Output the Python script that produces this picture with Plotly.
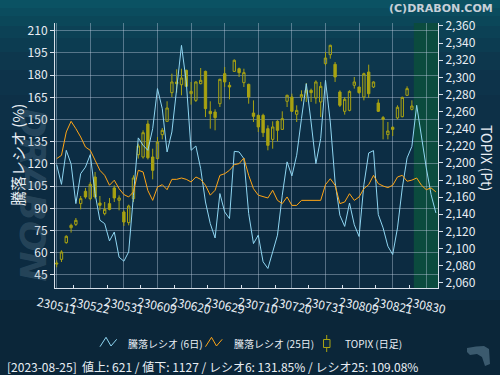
import pandas as pd
import plotly.graph_objects as go

# ---------------- data ----------------
DATES = [d.strftime("%y%m%d") for d in pd.bdate_range(
    "2023-05-11", "2023-09-01", freq="C", holidays=["2023-07-17", "2023-08-11"])]
TICK_EVERY = 7
TICK_LABELS = DATES[::TICK_EVERY][:12]

OPEN = [2083, 2087.3, 2106.8, 2124.3, 2128.2, 2152.4, 2166.8, 2158.2, 2183.5, 2153.1,
        2140.7, 2152.4, 2170.7, 2156.3, 2142.6, 2130.2, 2158.2, 2209.6, 2206.9, 2245.5,
        2206.9, 2205.0, 2233.0, 2248.6, 2282.1, 2294.6, 2291.4, 2308.2, 2280.9, 2273.1,
        2292.6, 2307.0, 2260.3, 2259.5, 2269.2, 2304.3, 2290.7, 2307.0, 2310.1, 2293.8,
        2291.8, 2258.3, 2255.6, 2255.6, 2240.0, 2227.5, 2248.6, 2239.2, 2272.0, 2277.0,
        2256.8, 2277.0, 2282.1, 2284.8, 2275.9, 2271.2, 2316.0, 2326.5, 2315.2, 2282.9,
        2260.3, 2261.4, 2290.7, 2288.7, 2277.0, 2306.2, 2288.7, 2270.0, 2252.9, 2233.0,
        2241.6, 2252.5, 2254.0, 2279.0, 2262.6]
HIGH = [2086, 2097.8, 2115.4, 2129.0, 2135.6, 2161.3, 2170.7, 2177.7, 2189.4, 2161.3,
        2154.3, 2159.0, 2173.8, 2162.1, 2144.6, 2151.2, 2185.5, 2222.5, 2238.1, 2249.8,
        2216.6, 2230.3, 2240.8, 2272.0, 2304.3, 2309.4, 2310.1, 2309.0, 2294.6, 2295.3,
        2310.9, 2307.8, 2272.0, 2262.6, 2298.4, 2312.1, 2294.6, 2321.0, 2311.3, 2310.1,
        2292.6, 2273.1, 2256.4, 2257.5, 2243.9, 2248.6, 2249.8, 2260.3, 2279.8, 2280.9,
        2267.3, 2284.8, 2293.4, 2286.8, 2296.5, 2294.6, 2329.6, 2338.2, 2317.9, 2284.8,
        2277.0, 2284.8, 2300.4, 2288.7, 2305.5, 2314.8, 2295.3, 2274.3, 2254.8, 2247.8,
        2242.7, 2267.3, 2277.4, 2289.5, 2273.1]
LOW = [2078, 2084.2, 2105.6, 2118.5, 2126.3, 2145.7, 2158.2, 2156.3, 2158.2, 2144.6,
       2138.7, 2144.6, 2154.3, 2144.6, 2126.3, 2127.0, 2154.3, 2205.0, 2205.0, 2204.0,
       2180.8, 2204.2, 2227.5, 2247.8, 2277.0, 2282.1, 2279.0, 2288.7, 2268.1, 2271.2,
       2291.8, 2253.6, 2240.0, 2238.1, 2265.3, 2288.7, 2274.3, 2306.2, 2300.4, 2288.7,
       2269.2, 2247.8, 2236.1, 2230.3, 2214.7, 2216.6, 2225.2, 2238.5, 2265.3, 2259.5,
       2247.8, 2272.0, 2271.2, 2271.2, 2269.2, 2253.6, 2314.0, 2321.8, 2294.6, 2265.3,
       2256.4, 2260.3, 2286.8, 2280.9, 2273.1, 2275.9, 2287.5, 2259.5, 2227.5, 2227.5,
       2231.4, 2250.9, 2253.3, 2278.2, 2261.4]
CLOSE = [2082, 2095.9, 2114.2, 2127.0, 2132.9, 2158.2, 2160.2, 2175.0, 2160.2, 2150.4,
         2145.7, 2145.7, 2159.0, 2159.0, 2130.9, 2149.6, 2182.4, 2219.8, 2235.3, 2206.0,
         2191.3, 2224.4, 2238.1, 2264.2, 2294.6, 2292.6, 2299.2, 2289.5, 2283.6, 2294.6,
         2296.5, 2263.4, 2257.5, 2252.9, 2297.7, 2294.6, 2288.7, 2319.9, 2305.5, 2305.5,
         2277.0, 2254.4, 2242.0, 2235.3, 2220.5, 2242.0, 2238.1, 2251.7, 2279.0, 2260.3,
         2261.4, 2279.8, 2284.8, 2282.1, 2294.6, 2289.5, 2322.6, 2337.4, 2300.4, 2267.3,
         2274.3, 2283.6, 2294.6, 2282.1, 2304.3, 2280.9, 2294.6, 2260.3, 2250.9, 2237.3,
         2239.2, 2265.0, 2276.6, 2286.8, 2266.5]

RATIO6 = [119.5, 106.2, 129.2, 120.0, 93.2, 113.4, 117.9, 126.3, 100.0, 82.0,
          79.7, 68.0, 74.0, 57.0, 54.3, 60.6, 98.9, 137.6, 132.6, 129.2,
          143.8, 170.9, 157.3, 128.1, 141.6, 170.9, 200.1, 175.4, 129.2, 132.1,
          116.8, 94.3, 79.7, 70.0, 100.0, 87.6, 83.1, 128.5, 128.1, 123.6,
          86.5, 66.2, 71.9, 53.9, 49.4, 60.6, 71.9, 98.9, 121.4, 111.9,
          125.9, 150.7, 174.2, 148.3, 120.2, 137.1, 176.5, 148.3, 107.8, 85.3,
          77.8, 93.6, 78.9, 71.0, 106.0, 127.4, 129.0, 85.8, 76.8, 64.4,
          58.8, 76.8, 103.8, 124.1, 131.85, 159.6, 137.6, 117.3, 99.3, 86.9]
RATIO25 = [123.6, 125.8, 141.6, 148.8, 143.8, 138.2, 131.4, 129.2, 122.5, 115.7,
           112.3, 105.6, 109.0, 103.3, 99.3, 97.7, 101.1, 115.7, 114.6, 102.0,
           95.4, 104.4, 106.0, 102.6, 109.6, 109.6, 110.5, 109.6, 107.8, 111.2,
           109.6, 105.6, 98.9, 102.2, 112.3, 113.4, 115.7, 119.5, 120.2, 124.0,
           112.3, 103.3, 98.9, 97.7, 97.0, 102.2, 95.4, 93.2, 97.7, 92.0,
           92.0, 95.4, 95.4, 95.4, 95.4, 95.4, 106.0, 110.0, 105.6, 93.2,
           94.3, 99.9, 95.4, 97.7, 103.3, 106.0, 112.3, 106.7, 105.1, 104.0,
           105.6, 111.2, 112.3, 108.3, 109.08, 110.5, 105.6, 102.6, 103.8, 101.1]

LEGEND_NAMES = ["騰落レシオ (6日)", "騰落レシオ (25日)", "TOPIX (日足)"]
STATUS = "[2023-08-25]  値上: 621 / 値下: 1127 / レシオ6: 131.85% / レシオ25: 109.08%"
LEFT_TITLE = "騰落レシオ (%)"
RIGHT_TITLE = "TOPIX (Pt)"
CREDIT = "(C)DRABON.COM"

# ---------------- styling ----------------
W, H = 500, 375
PL, PR, PT, PB = 55, 438, 23, 288
FONT = "Noto Sans CJK JP, Noto Sans, DejaVu Sans, sans-serif"
TXT = "#e8eef4"
OLIVE = "#a8a212"
BLUE = "#8fd6f2"
ORANGE = "#ffa516"
PLOT_BG = "#1b3561"
GREEN_BG = "#0b4b3e"
GRID = "rgba(190,205,225,0.42)"
PAPER = "#0c2a40"


def px(x):
    return (x - PL) / (PR - PL)


def py(y):
    return (PB - y) / (PB - PT)


xc = list(range(len(OPEN)))
xl = list(range(len(RATIO6)))
tickpos = [DATES.index(t) for t in TICK_LABELS]

fig = go.Figure()
fig.add_trace(go.Candlestick(
    x=xc, open=OPEN, high=HIGH, low=LOW, close=CLOSE, name=LEGEND_NAMES[2],
    increasing=dict(line=dict(color=OLIVE, width=1), fillcolor="rgba(0,0,0,0)"),
    decreasing=dict(line=dict(color=OLIVE, width=1), fillcolor=OLIVE),
    yaxis="y", showlegend=False, hoverinfo="skip"))
fig.add_trace(go.Scatter(x=xl, y=RATIO6, mode="lines", name=LEGEND_NAMES[0],
                         line=dict(color=BLUE, width=1), yaxis="y2",
                         showlegend=False, hoverinfo="skip"))
fig.add_trace(go.Scatter(x=xl, y=RATIO25, mode="lines", name=LEGEND_NAMES[1],
                         line=dict(color=ORANGE, width=1), yaxis="y2",
                         showlegend=False, hoverinfo="skip"))

shapes = []
# background vertical gradient (teal top -> navy)
grad = [(0, "#0b5263"), (8, "#0b4c5e"), (16, "#0b4759"), (26, "#0c4155"),
        (38, "#0c3c51"), (52, "#0d374d"), (70, "#0d334a"), (95, "#0d3047"),
        (130, "#0c2d44"), (180, "#0c2b41")]
for k, (y0, col) in enumerate(grad):
    y1 = grad[k + 1][0] if k + 1 < len(grad) else 300
    shapes.append(dict(type="rect", xref="paper", yref="paper", layer="below",
                       x0=px(0), x1=px(W), y0=py(y1), y1=py(y0),
                       fillcolor=col, line=dict(width=0)))
shapes.append(dict(type="rect", xref="paper", yref="paper", layer="below",
                   x0=px(0), x1=px(W), y0=py(H), y1=py(300),
                   fillcolor="#0b2639", line=dict(width=0)))
# green (future) zone
shapes.append(dict(type="rect", xref="x", yref="paper", layer="below",
                   x0=len(OPEN) - 0.6, x1=len(RATIO6) + 2, y0=0, y1=1,
                   fillcolor=GREEN_BG, line=dict(width=0)))


def zig(x0, col):
    pts = [(x0, 346.7), (x0 + 6, 337.3), (x0 + 11, 346), (x0 + 16.7, 339.3)]
    path = "M " + " L ".join(f"{px(a):.5f},{py(b):.5f}" for a, b in pts)
    return dict(type="path", xref="paper", yref="paper", path=path,
                line=dict(color=col, width=1))


shapes.append(zig(100, BLUE))
shapes.append(zig(205.5, ORANGE))
shapes.append(dict(type="line", xref="paper", yref="paper", x0=px(326.7), x1=px(326.7),
                   y0=py(352), y1=py(335), line=dict(color=OLIVE, width=1)))
shapes.append(dict(type="rect", xref="paper", yref="paper", x0=px(323.5), x1=px(330),
                   y0=py(347.5), y1=py(339.5), fillcolor=PAPER,
                   line=dict(color=OLIVE, width=1)))
# small logo bottom right
logo = [(467, 348), (476, 346.5), (484, 346), (489, 349), (490, 364), (485, 366),
        (482, 357), (477, 354), (470, 355), (467, 352)]
shapes.append(dict(type="path", xref="paper", yref="paper",
                   path="M " + " L ".join(f"{px(a):.5f},{py(b):.5f}" for a, b in logo) + " Z",
                   fillcolor="#3b5a6e", line=dict(width=0)))

ann = []
ann.append(dict(text="DRABON", xref="paper", yref="paper", x=px(33), y=py(195),
                xanchor="center", yanchor="middle",
                showarrow=False, textangle=90,
                font=dict(family="DejaVu Sans", size=36, color="rgba(110,140,160,0.27)",
                          weight="bold", style="italic")))
for t, pos in zip(TICK_LABELS, tickpos):
    ann.append(dict(text=t, x=pos, y=py(290), xref="x", yref="paper",
                    showarrow=False, textangle=12, xanchor="center", yanchor="top",
                    font=dict(family=FONT, size=12, color=TXT)))
ann.append(dict(text=LEFT_TITLE, xref="paper", yref="paper", x=px(17), y=py(155),
                xanchor="center", yanchor="middle",
                showarrow=False, textangle=-90, font=dict(family=FONT, size=15, color=TXT)))
ann.append(dict(text=RIGHT_TITLE, xref="paper", yref="paper", x=px(487), y=py(158),
                xanchor="center", yanchor="middle",
                showarrow=False, textangle=90, font=dict(family=FONT, size=14, color=TXT)))
ann.append(dict(text=CREDIT, xref="paper", yref="paper", x=px(495), y=py(8),
                xanchor="right", yanchor="middle", showarrow=False,
                font=dict(family="DejaVu Sans", size=11, color="#c7d0d8", weight="bold")))
for name, x0 in zip(LEGEND_NAMES, [126, 232, 343]):
    ann.append(dict(text=name, xref="paper", yref="paper", x=px(x0), y=py(343),
                    xanchor="left", yanchor="middle", showarrow=False,
                    font=dict(family=FONT, size=10, color=TXT)))
ann.append(dict(text=STATUS, xref="paper", yref="paper", x=px(5), y=py(366),
                xanchor="left", yanchor="middle", showarrow=False,
                font=dict(family=FONT, size=12, color=TXT)))

fig.update_layout(
    width=W, height=H,
    margin=dict(l=PL, r=W - PR, t=PT, b=H - PB, pad=0, autoexpand=False),
    paper_bgcolor=PAPER, plot_bgcolor=PLOT_BG,
    showlegend=False, hovermode=False,
    font=dict(family=FONT, size=12, color=TXT),
    shapes=shapes, annotations=ann,
    xaxis=dict(range=[-0.35, 79.44], tickmode="array", tickvals=tickpos,
               showticklabels=False, showgrid=True, gridcolor=GRID, gridwidth=1,
               showline=True, linecolor="#d8e0ea", linewidth=1, zeroline=False,
               ticks="", automargin=False, rangeslider=dict(visible=False),
               minor=dict(tickmode="array", tickvals=[p + 3.5 for p in tickpos],
                          ticks="inside", ticklen=3, tickcolor="#d8e0ea", showgrid=False)),
    yaxis=dict(range=[2053.8, 2363.5], side="right", tick0=2060, dtick=20,
               tickformat=",", showgrid=False, zeroline=False, showline=True,
               automargin=False,
               linecolor="#d8e0ea", linewidth=1, ticks="outside", ticklen=4,
               tickcolor="#d8e0ea", tickfont=dict(family=FONT, size=12, color=TXT)),
    yaxis2=dict(range=[36.2, 215.2], side="left", overlaying="y", tick0=45, dtick=15,
                showgrid=True, gridcolor=GRID, gridwidth=1, zeroline=False,
                automargin=False,
                showline=True, linecolor="#d8e0ea", linewidth=1, ticks="outside",
                ticklen=4, tickcolor="#d8e0ea",
                tickfont=dict(family=FONT, size=12, color=TXT)),
)

fig.write_html("out.html", config={"responsive": False, "displayModeBar": False,
                                   "staticPlot": True},
               post_script="document.body.style.margin='0';"
                           "document.body.style.padding='0';"
                           "document.body.style.overflow='hidden';")
